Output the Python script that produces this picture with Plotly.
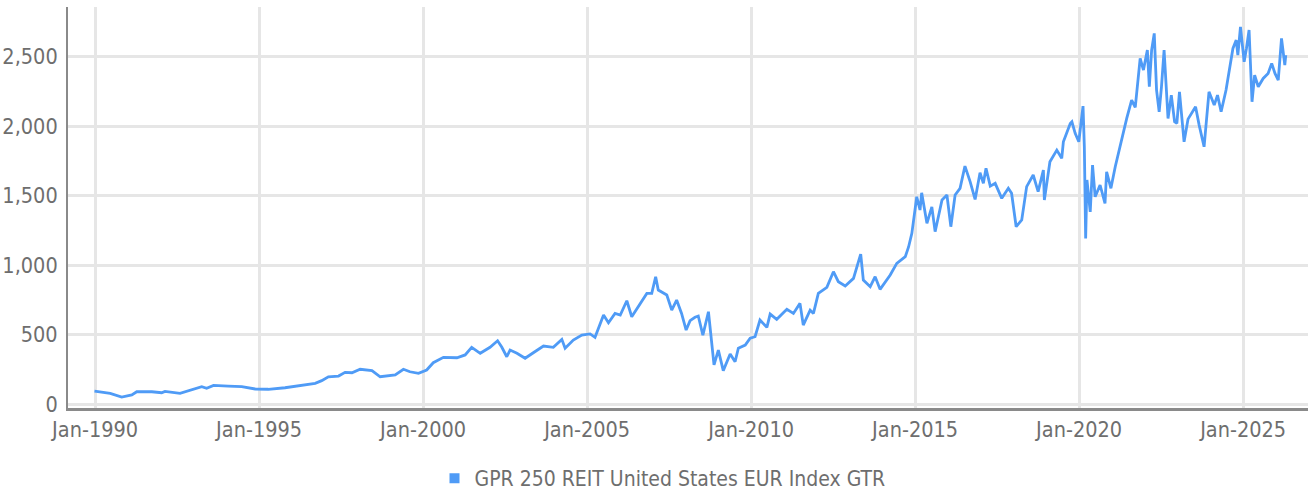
import plotly.graph_objects as go
import pandas as pd

# Decimal-year positions of readings and index levels
years = [
    1989.98, 1990.46, 1990.81, 1991.12, 1991.27, 1991.73, 1992.03, 1992.13, 1992.59, 1992.95,
    1993.25, 1993.40, 1993.61, 1994.06, 1994.47, 1994.88, 1995.28, 1995.79, 1996.20, 1996.71,
    1996.91, 1997.11, 1997.42, 1997.62, 1997.83, 1998.08, 1998.44, 1998.69, 1999.15, 1999.40,
    1999.60, 1999.86, 2000.11, 2000.31, 2000.62, 2001.03, 2001.28, 2001.48, 2001.74, 2002.04,
    2002.27, 2002.40, 2002.55, 2002.65, 2002.86, 2003.11, 2003.36, 2003.67, 2003.97, 2004.23,
    2004.33, 2004.58, 2004.84, 2005.09, 2005.24, 2005.50, 2005.65, 2005.85, 2006.01, 2006.21,
    2006.36, 2006.62, 2006.82, 2006.97, 2007.09, 2007.17, 2007.43, 2007.58, 2007.73, 2007.88,
    2008.02, 2008.14, 2008.29, 2008.39, 2008.53, 2008.70, 2008.80, 2008.87, 2009.00, 2009.15,
    2009.36, 2009.51, 2009.61, 2009.82, 2009.97, 2010.12, 2010.27, 2010.48, 2010.58, 2010.78,
    2011.09, 2011.29, 2011.49, 2011.59, 2011.80, 2011.90, 2012.05, 2012.31, 2012.51, 2012.66,
    2012.87, 2013.12, 2013.34, 2013.42, 2013.63, 2013.78, 2013.93, 2014.24, 2014.44, 2014.70,
    2014.80, 2014.90, 2015.05, 2015.15, 2015.20, 2015.36, 2015.51, 2015.61, 2015.82, 2015.97,
    2016.09, 2016.22, 2016.37, 2016.52, 2016.68, 2016.83, 2016.98, 2017.08, 2017.16, 2017.29,
    2017.44, 2017.64, 2017.84, 2017.94, 2018.08, 2018.25, 2018.40, 2018.60, 2018.75, 2018.91,
    2018.94, 2019.11, 2019.32, 2019.47, 2019.52, 2019.62, 2019.73, 2019.78, 2019.88, 2019.99,
    2020.12, 2020.16, 2020.20, 2020.24, 2020.34, 2020.41, 2020.49, 2020.64, 2020.79, 2020.84,
    2020.97, 2021.10, 2021.25, 2021.35, 2021.45, 2021.60, 2021.71, 2021.86, 2021.96, 2022.08,
    2022.14, 2022.21, 2022.29, 2022.36, 2022.44, 2022.51, 2022.59, 2022.71, 2022.77, 2022.81,
    2022.91, 2022.98, 2023.06, 2023.20, 2023.32, 2023.45, 2023.55, 2023.66, 2023.81, 2023.96,
    2024.12, 2024.22, 2024.33, 2024.48, 2024.58, 2024.69, 2024.79, 2024.84, 2024.92, 2025.03,
    2025.10, 2025.18, 2025.27, 2025.35, 2025.46, 2025.61, 2025.76, 2025.87, 2025.97, 2026.07,
    2026.17, 2026.27, 2026.30,
]
values = [
    92, 77, 50, 65, 88, 88, 81, 91, 77, 101,
    125, 113, 134, 129, 125, 108, 106, 117, 132, 149,
    168, 196, 201, 228, 225, 250, 240, 196, 209, 250,
    232, 221, 245, 297, 336, 333, 353, 408, 365, 408,
    455, 408, 340, 388, 365, 329, 369, 417, 408, 465,
    401, 460, 496, 504, 480, 640, 585, 652, 640, 743,
    628, 724, 796, 796, 916, 820, 784, 676, 748, 652,
    532, 600, 624, 633, 496, 664, 460, 281, 388, 240,
    360, 304, 401, 424, 473, 484, 604, 552, 647, 609,
    681, 652, 724, 568, 676, 652, 796, 839, 952, 880,
    849, 904, 1079, 892, 844, 916, 825, 928, 1012, 1060,
    1130, 1228, 1491, 1396, 1520, 1300, 1419, 1240, 1468, 1504,
    1276, 1504, 1552, 1712, 1599, 1472, 1664, 1588, 1696, 1568,
    1588, 1480, 1552, 1516, 1276, 1324, 1564, 1648, 1528, 1683,
    1468, 1743, 1827, 1768, 1887, 1948, 2019, 2031, 1948, 1887,
    2144, 1851, 1192, 1612, 1383, 1719, 1491, 1576, 1444, 1671,
    1552, 1707, 1863, 1948, 2055, 2187, 2134, 2487, 2403, 2547,
    2283, 2547, 2667, 2259, 2103, 2283, 2547, 2055, 2151, 2223,
    2031, 2019, 2247, 1887, 2050, 2103, 2139, 2007, 1851, 2247,
    2151, 2223, 2103, 2259, 2391, 2559, 2619, 2511, 2714, 2463,
    2559, 2691, 2175, 2367, 2283, 2343, 2379, 2451, 2379, 2331,
    2631, 2439, 2511,
]
series_name = "GPR 250 REIT United States EUR Index GTR"
x_tick_dates = ["1990-01-01", "1995-01-01", "2000-01-01", "2005-01-01",
                "2010-01-01", "2015-01-01", "2020-01-01", "2025-01-01"]
y_ticks = [0, 500, 1000, 1500, 2000, 2500]


def to_date(y):
    yr = int(y)
    return pd.Timestamp(year=yr, month=1, day=1) + pd.Timedelta(days=(y - yr) * 365.25)


dates = [to_date(y) for y in years]

LINE = "#4f9bf6"
FONT = "DejaVu Sans Condensed, DejaVu Sans, sans-serif"
TXT = "#6e6e6e"

fig = go.Figure()
fig.add_trace(go.Scatter(
    x=dates, y=values, mode="lines",
    line=dict(color=LINE, width=2.8),
    name=series_name, showlegend=False, legendgroup="g",
))
fig.add_trace(go.Scatter(
    x=[None], y=[None], mode="markers",
    marker=dict(symbol="square", size=10, color=LINE),
    name=series_name, showlegend=True, legendgroup="g",
))

fig.update_layout(
    width=1308, height=493,
    margin=dict(l=68, r=0, t=7, b=85),
    paper_bgcolor="white", plot_bgcolor="white",
    font=dict(family=FONT, size=21.5, color=TXT),
    legend=dict(
        orientation="h",
        xref="container", x=0.5065, xanchor="center",
        yref="container", y=0.071, yanchor="top",
        font=dict(size=21, color=TXT),
        itemwidth=30,
    ),
    xaxis=dict(
        type="date",
        range=["1989-03-05", "2026-12-24"],
        tickvals=x_tick_dates, tickformat="%b-%Y",
        showgrid=True, gridcolor="#e6e6e6", gridwidth=3,
        showline=True, linecolor="#8a8a8a", linewidth=3,
        ticks="", zeroline=False, automargin=False,
    ),
    yaxis=dict(
        range=[-28.8, 2857],
        tickvals=y_ticks, tickformat=",",
        showgrid=True, gridcolor="#e6e6e6", gridwidth=3,
        showline=True, linecolor="#8a8a8a", linewidth=2,
        ticks="", zeroline=False, ticklabelstandoff=4, automargin=False,
    ),
)

fig.write_html(
    "out.html",
    config={"displayModeBar": False},
    post_script="document.body.style.margin='0';document.body.style.overflow='hidden';",
)
